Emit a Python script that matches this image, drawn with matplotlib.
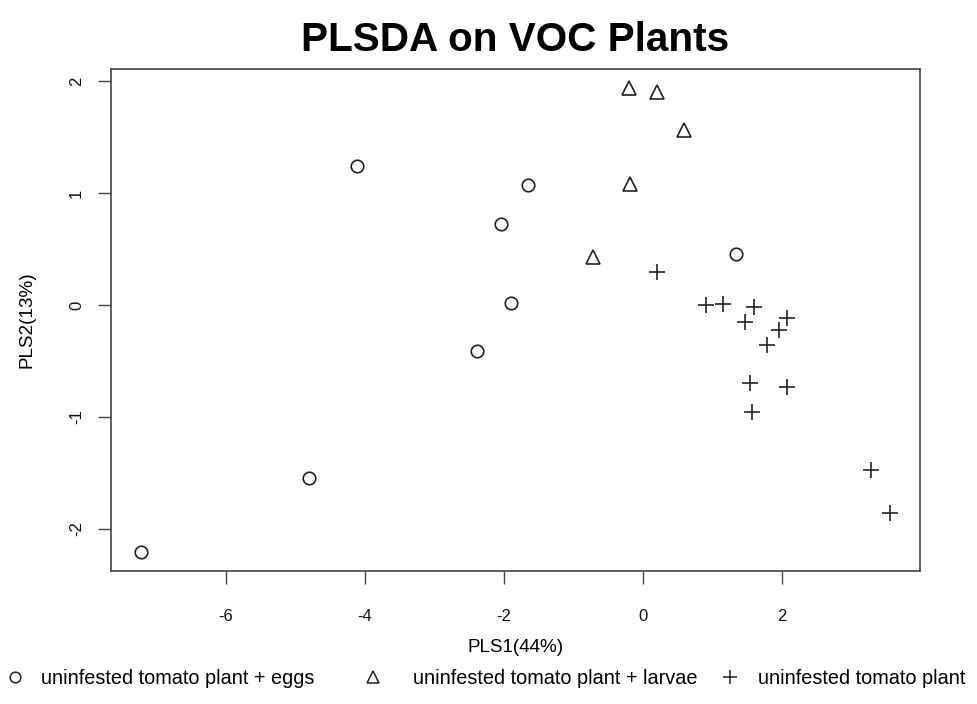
import matplotlib

matplotlib.use("Agg")

import matplotlib.pyplot as plt
from matplotlib.lines import Line2D
from matplotlib.ticker import MultipleLocator

plt.rcParams["font.family"] = ["Liberation Sans", "DejaVu Sans"]
plt.rcParams["axes.unicode_minus"] = False

# PLS-DA scores
eggs_x = [-7.22, -4.81, -4.12, -1.65, -2.04, -1.90, -2.39, 1.34]
eggs_y = [-2.21, -1.55, 1.24, 1.07, 0.72, 0.02, -0.41, 0.45]

larvae_x = [-0.20, 0.20, 0.59, -0.19, -0.72]
larvae_y = [1.94, 1.90, 1.56, 1.08, 0.43]

plant_x = [0.20, 0.91, 1.15, 1.60, 1.47, 2.07, 1.96, 1.78, 1.53, 2.07, 1.57, 3.27, 3.55]
plant_y = [0.29, 0.00, 0.01, -0.02, -0.15, -0.12, -0.22, -0.36, -0.70, -0.73, -0.96, -1.47, -1.86]

group_labels = ["uninfested tomato plant + eggs",
                "uninfested tomato plant + larvae",
                "uninfested tomato plant"]
group_markers = ["o", "^", "+"]
marker_sizes = [9, 10.5, 12]

INK = "#222222"
LEG_FS = 14.3

fig = plt.figure(figsize=(9.78, 7.04), dpi=100)
ax = fig.add_axes([111 / 978, 1 - 571 / 704, 809 / 978, 502 / 704])

groups = [(eggs_x, eggs_y), (larvae_x, larvae_y), (plant_x, plant_y)]
for (xs, ys), mk, ms in zip(groups, group_markers, marker_sizes):
    ax.plot(xs, ys, linestyle="none", marker=mk, markersize=ms,
            markerfacecolor="none", markeredgecolor=INK, markeredgewidth=1.2)

# R-style 4% padding
ax.margins(x=0.04, y=0.04)
ax.xaxis.set_major_locator(MultipleLocator(2))
ax.yaxis.set_major_locator(MultipleLocator(1))

for side in ["top", "right", "bottom", "left"]:
    ax.spines[side].set_color("#444444")
    ax.spines[side].set_linewidth(1.2)

ax.tick_params(axis="both", length=9.5, width=1.0, color="#444444",
               labelsize=12, labelcolor="#111111")
ax.tick_params(axis="x", pad=18)
ax.tick_params(axis="y", labelrotation=90, pad=10)
for lab in ax.get_yticklabels():
    lab.set_va("center")

ax.set_title("PLSDA on VOC Plants", fontsize=29.2, fontweight="bold", pad=13)
ax.set_xlabel("PLS1(44%)", fontsize=13.6)
ax.set_ylabel("PLS2(13%)", fontsize=13.6)
ax.xaxis.set_label_coords(0.5, -76 / 502)
ax.xaxis.label.set_va("center")
ax.yaxis.set_label_coords(-84 / 809, 0.5)
ax.yaxis.label.set_va("center")

# legend entries laid out in one row under the plot
legend_marker_x = [15, 373, 730]
legend_text_x = [41, 413, 758]
handle_len = 1.2
fs_px = LEG_FS * 100 / 72
half_px = handle_len * fs_px / 2
for label, mk, ms, mx, tx in zip(group_labels, group_markers, marker_sizes,
                                 legend_marker_x, legend_text_x):
    h = Line2D([], [], linestyle="none", marker=mk, markersize=ms * 0.85,
               markerfacecolor="none", markeredgecolor=INK, markeredgewidth=1.1)
    text_pad = (tx - mx - half_px) / fs_px
    fig.legend(handles=[h], labels=[label], loc="center left",
               bbox_to_anchor=((mx - half_px) / 978, 1 - 678 / 704),
               frameon=False, fontsize=LEG_FS, handlelength=handle_len,
               handletextpad=text_pad, borderpad=0, borderaxespad=0)

fig.savefig("out.png", dpi=100)
